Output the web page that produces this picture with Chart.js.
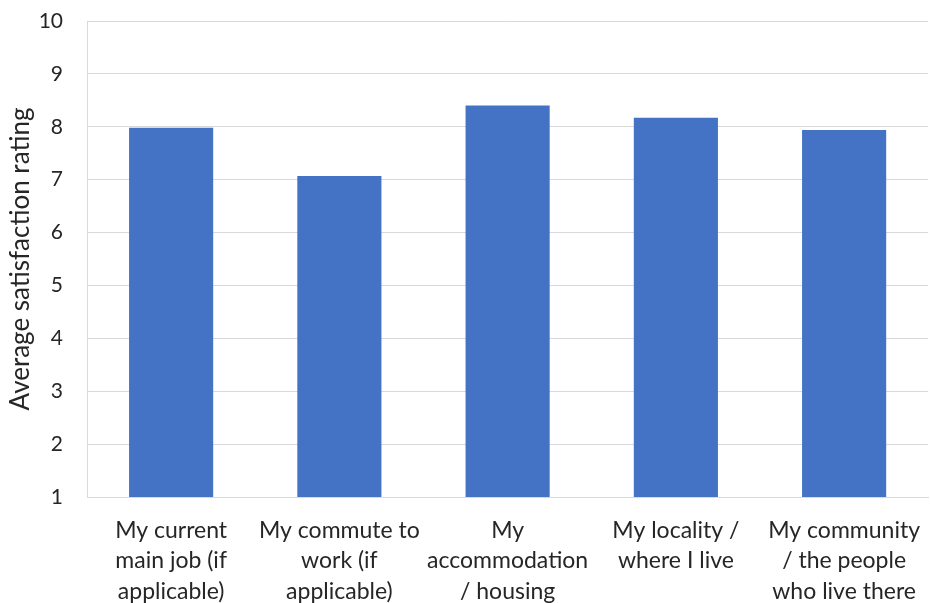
<!DOCTYPE html>
<html>
<head>
<meta charset="utf-8">
<script src="https://cdn.jsdelivr.net/npm/chart.js@4/dist/chart.umd.min.js"></script>
<style>
  html, body { margin: 0; padding: 0; background: #fff; }
  #wrap { width: 930px; height: 603px; }
</style>
</head>
<body>
<div id="wrap"><canvas id="chart"></canvas></div>
<script>
var categories = [
    ['My current', 'main job (if', 'applicable)'],
    ['My commute to', 'work (if', 'applicable)'],
    ['My', 'accommodation', '/ housing'],
    ['My locality /', 'where I live'],
    ['My community', '/ the people', 'who live there']
];
var ratings = [7.98, 7.07, 8.40, 8.17, 7.94];
var yTicks = [1, 2, 3, 4, 5, 6, 7, 8, 9, 10];

var textColor = '#262626';
var fontName = 'Lato, "Open Sans", sans-serif';

var ctx = document.getElementById('chart').getContext('2d');
var myBarChart = new Chart(ctx, {
    type: 'bar',
    data: {
        labels: categories,
        datasets: [
            {
                data: ratings,
                backgroundColor: '#4472C4',
                borderWidth: 0,
                categoryPercentage: 1.0,
                barPercentage: 0.5
            }
        ]
    },
    options: {
        responsive: true,
        maintainAspectRatio: false,
        animation: false,
        layout: { padding: { top: 21, right: 0, bottom: 0, left: 0 } },
        plugins: {
            legend: { display: false },
            tooltip: { enabled: false }
        },
        scales: {
            x: {
                grid: { display: false },
                border: { color: '#D9D9D9', width: 1 },
                ticks: {
                    color: textColor,
                    padding: 10,
                    maxRotation: 0,
                    autoSkip: false,
                    font: { family: fontName, size: 23, lineHeight: 1.33 }
                },
                afterFit: function(scale) { scale.height = 106; }
            },
            y: {
                min: 1,
                max: 10,
                afterBuildTicks: function(scale) {
                    scale.ticks = yTicks.map(function(v) { return { value: v }; });
                },
                grid: { color: '#D9D9D9', lineWidth: 1, drawTicks: false },
                border: { color: '#D9D9D9', width: 1 },
                ticks: {
                    color: textColor,
                    padding: 24,
                    font: { family: fontName, size: 21 }
                },
                title: {
                    display: true,
                    text: 'Average satisfaction rating',
                    color: textColor,
                    padding: { top: 5, bottom: 0 },
                    font: { family: fontName, size: 26 }
                },
                afterFit: function(scale) {
                    scale.width = 87;
                    scale.paddingTop = 0;
                    scale.paddingBottom = 0;
                }
            }
        }
    }
});
</script>
</body>
</html>
